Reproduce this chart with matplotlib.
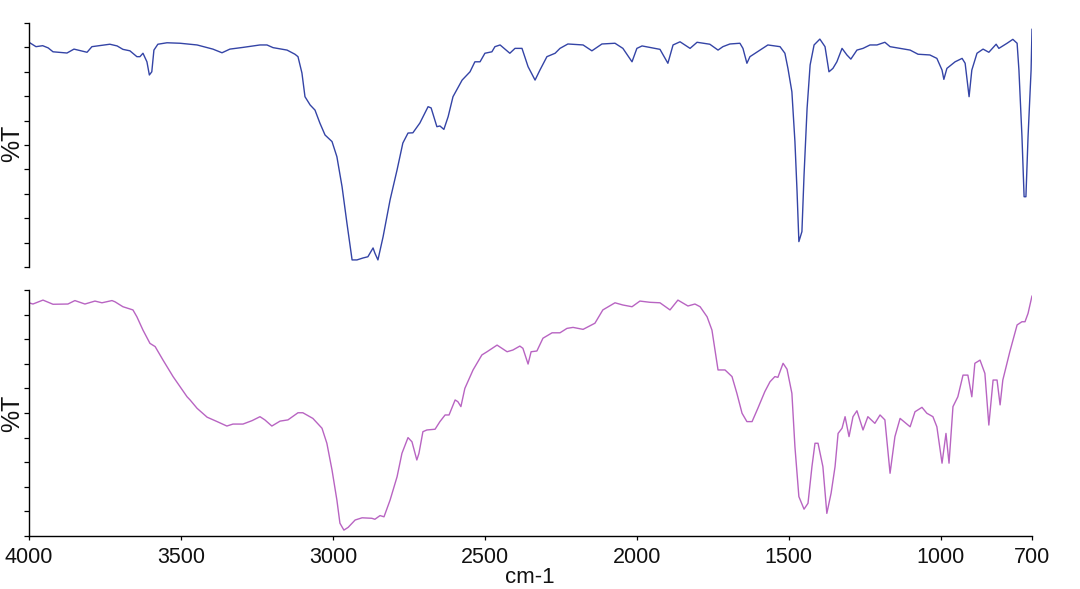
import matplotlib
matplotlib.use("Agg")
import matplotlib.pyplot as plt

plt.rcParams['font.family'] = ['Liberation Sans', 'DejaVu Sans']

# ---- data ----
wn_top = [4000, 3977, 3955, 3937, 3921, 3875, 3852, 3826, 3809, 3793, 3734, 3710, 3691, 3668,
          3645, 3635, 3625, 3612, 3604, 3596, 3589, 3576, 3546, 3503, 3447, 3395, 3365, 3339,
          3296, 3240, 3217, 3197, 3151, 3125, 3115, 3102, 3092, 3075, 3059, 3043, 3026, 3003,
          2987, 2970, 2954, 2937, 2921, 2901, 2885, 2868, 2862, 2852, 2835, 2812, 2789, 2770,
          2753, 2737, 2714, 2687, 2677, 2658, 2648, 2635, 2621, 2605, 2575, 2549, 2533, 2516,
          2500, 2477, 2467, 2450, 2418, 2401, 2378, 2358, 2335, 2319, 2296, 2269, 2253, 2227,
          2177, 2148, 2115, 2072, 2046, 2016, 2000, 1983, 1924, 1898, 1881, 1858, 1825, 1802,
          1760, 1733, 1717, 1694, 1661, 1651, 1638, 1628, 1595, 1569, 1552, 1529, 1513, 1503,
          1490, 1480, 1473, 1467, 1457, 1450, 1440, 1430, 1417, 1398, 1381, 1368, 1355, 1342,
          1325, 1309, 1296, 1276, 1256, 1233, 1210, 1184, 1167, 1134, 1101, 1075, 1036, 1013,
          996, 990, 980, 953, 930, 920, 911, 907, 898, 881, 861, 842, 818, 809, 782, 763, 749,
          743, 733, 726, 720, 713, 703, 700]
t_top = [92.1, 90.3, 90.7, 89.8, 88.2, 87.7, 89.3, 88.5, 88.0, 90.3, 91.3, 90.6, 89.2, 88.6,
         86.2, 86.2, 87.6, 84.1, 78.7, 80.0, 88.9, 91.3, 91.9, 91.7, 91.0, 89.3, 87.8, 89.3,
         90.0, 91.0, 91.0, 89.9, 88.9, 87.2, 86.2, 79.5, 69.8, 66.4, 64.3, 59.0, 54.1, 51.4,
         45.2, 32.9, 18.0, 2.9, 2.9, 3.7, 4.2, 7.8, 5.7, 2.9, 12.4, 27.5, 39.8, 50.8,
         54.9, 55.0, 59.0, 65.7, 65.2, 57.5, 57.8, 56.4, 61.6, 69.8, 76.6, 80.0, 84.1, 84.1,
         87.6, 88.2, 90.3, 91.0, 87.6, 89.6, 89.6, 82.1, 76.6, 80.7, 86.2, 87.6, 89.6, 91.4,
         91.0, 88.6, 91.4, 91.7, 89.6, 84.1, 89.6, 90.6, 89.2, 83.5, 91.0, 92.3, 89.6, 92.1,
         91.3, 88.9, 90.3, 91.4, 91.7, 89.6, 83.5, 86.2, 88.9, 91.0, 90.7, 90.3, 87.6, 81.4,
         71.8, 51.4, 30.9, 10.4, 14.5, 37.7, 65.0, 82.8, 91.0, 93.4, 90.3, 80.0, 81.4, 84.1,
         89.6, 86.9, 85.2, 88.9, 89.6, 91.0, 91.0, 92.1, 90.3, 89.6, 88.9, 87.2, 86.9, 85.5,
         80.7, 76.9, 81.4, 84.1, 85.5, 83.5, 73.9, 69.8, 80.7, 87.6, 89.3, 88.0, 91.3, 89.6,
         91.7, 93.3, 91.7, 80.7, 53.4, 28.8, 28.8, 53.4, 80.7, 97.5]

wn_bot = [4000, 3987, 3954, 3921, 3872, 3849, 3816, 3783, 3760, 3727, 3717, 3691, 3658, 3645,
          3625, 3602, 3585, 3559, 3526, 3480, 3470, 3447, 3414, 3381, 3349, 3329, 3296, 3266,
          3240, 3224, 3201, 3174, 3148, 3115, 3099, 3066, 3036, 3020, 3003, 2987, 2977, 2964,
          2950, 2927, 2904, 2872, 2862, 2845, 2832, 2812, 2789, 2773, 2753, 2740, 2724, 2717,
          2704, 2691, 2664, 2648, 2631, 2618, 2598, 2589, 2579, 2566, 2539, 2510, 2493, 2460,
          2427, 2408, 2385, 2375, 2358, 2348, 2329, 2309, 2279, 2253, 2230, 2210, 2177, 2138,
          2112, 2072, 2046, 2016, 1990, 1957, 1924, 1891, 1865, 1832, 1809, 1792, 1769, 1753,
          1743, 1733, 1710, 1687, 1671, 1654, 1638, 1621, 1602, 1579, 1562, 1546, 1536, 1519,
          1506, 1490, 1480, 1467, 1450, 1437, 1424, 1414, 1404, 1388, 1375, 1361, 1348, 1338,
          1325, 1315, 1302, 1289, 1276, 1256, 1240, 1217, 1200, 1184, 1167, 1151, 1134, 1101,
          1085, 1062, 1046, 1026, 1013, 996, 983, 973, 960, 944, 927, 911, 898, 888, 871, 855,
          842, 828, 815, 805, 796, 773, 749, 733, 723, 713, 700]
t_bot = [94.8, 94.3, 95.9, 94.2, 94.3, 95.7, 94.3, 95.5, 94.8, 95.7, 95.2, 93.2, 91.9, 89.1,
         83.7, 78.3, 77.0, 71.5, 64.8, 56.6, 55.3, 51.9, 48.3, 46.5, 44.7, 45.5, 45.5, 46.9,
         48.5, 47.2, 44.7, 46.7, 47.2, 50.1, 50.1, 47.8, 43.8, 37.7, 26.8, 14.6, 5.2, 2.4,
         3.5, 6.5, 7.4, 7.2, 6.8, 8.3, 7.8, 14.6, 24.1, 33.6, 40.0, 38.3, 30.9, 33.6,
         42.4, 43.1, 43.4, 46.5, 49.2, 49.2, 55.3, 54.6, 52.6, 60.0, 67.5, 73.6, 74.9, 77.6,
         74.9, 75.6, 77.2, 76.3, 69.9, 74.9, 75.2, 80.4, 82.6, 82.6, 84.4, 84.8, 84.0, 86.5,
         91.9, 94.8, 93.9, 93.2, 95.5, 95.0, 94.8, 91.9, 95.9, 93.5, 94.3, 93.2, 89.1, 83.7,
         75.6, 67.5, 67.5, 64.8, 58.0, 49.9, 46.5, 46.5, 51.9, 58.7, 62.7, 64.8, 64.5, 70.2,
         67.8, 58.0, 36.3, 16.0, 10.9, 13.3, 28.2, 37.7, 37.7, 28.2, 9.2, 17.4, 28.2, 41.7,
         43.8, 48.5, 40.4, 48.5, 50.9, 43.1, 48.5, 45.8, 49.2, 47.2, 25.5, 40.4, 47.8, 44.4,
         50.5, 52.3, 49.9, 48.5, 44.4, 29.6, 41.7, 29.6, 52.6, 56.6, 65.4, 65.4, 56.6, 70.2,
         71.5, 66.1, 45.1, 63.4, 63.4, 53.3, 63.4, 74.9, 85.8, 87.1, 87.1, 90.5, 97.6]

x_ticks = [4000, 3500, 3000, 2500, 2000, 1500, 1000, 700]
x_tick_labels = ["4000", "3500", "3000", "2500", "2000", "1500", "1000", "700"]
y_label = "%T"
x_label = "cm-1"

# ---- figure ----
W, H = 1080, 589
fig = plt.figure(figsize=(W / 100, H / 100), dpi=100)

left = 29 / W
width = 1003 / W
ax_top = fig.add_axes([left, (H - 267) / H, width, 244 / H])
ax_bot = fig.add_axes([left, (H - 536) / H, width, 246 / H])

ax_top.plot(wn_top, t_top, color="#3444a6", lw=1.0,
            solid_joinstyle="round", solid_capstyle="round")
ax_bot.plot(wn_bot, t_bot, color="#b864c2", lw=1.0,
            solid_joinstyle="round", solid_capstyle="round")

for ax in (ax_top, ax_bot):
    ax.set_xlim(4000, 700)
    ax.set_ylim(0, 100)
    ax.set_yticks(range(0, 101, 10))
    ax.set_yticklabels([])
    ax.tick_params(axis="y", direction="out", length=3.5, width=0.9, color="black")
    for s in ("top", "right"):
        ax.spines[s].set_visible(False)
    ax.spines["left"].set_linewidth(1.0)
    ax.set_facecolor("white")

ax_top.spines["bottom"].set_visible(False)
ax_top.set_xticks([])

ax_bot.spines["bottom"].set_linewidth(1.0)
ax_bot.set_xticks(x_ticks)
ax_bot.set_xticklabels(x_tick_labels)
ax_bot.tick_params(axis="x", direction="out", length=3, width=0.9, pad=5,
                   labelsize=15.5, labelcolor="#111111")

# y labels
fig.text(12.5 / W, 1 - 143 / H, y_label, rotation=90, ha="center", va="center",
         fontsize=18, color="#111111")
fig.text(12.5 / W, 1 - 413 / H, y_label, rotation=90, ha="center", va="center",
         fontsize=18, color="#111111")
# x label
fig.text(530 / W, 1 / H, x_label, ha="center", va="bottom",
         fontsize=16, color="#111111")

fig.savefig("out.png", dpi=100, facecolor="white")
